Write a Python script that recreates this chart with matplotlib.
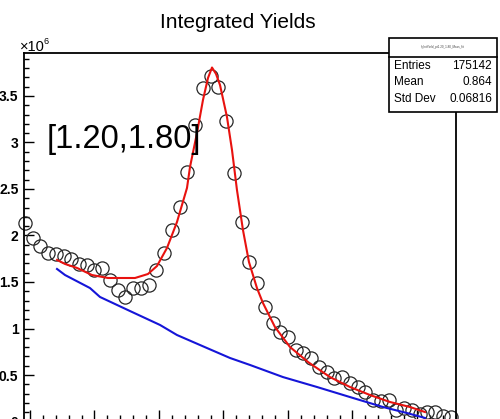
import matplotlib
matplotlib.use('Agg')
import matplotlib.pyplot as plt
from matplotlib.ticker import MultipleLocator, FuncFormatter
from matplotlib.patches import Rectangle
from matplotlib.lines import Line2D

plt.rcParams['font.family'] = ['Liberation Sans', 'DejaVu Sans']

# integrated yield per mass bin (units of 1e6)
mass = [0.592, 0.604, 0.616, 0.628, 0.640, 0.652, 0.664, 0.676, 0.688, 0.700,
        0.712, 0.724, 0.736, 0.748, 0.760, 0.772, 0.784, 0.796, 0.808, 0.820,
        0.832, 0.844, 0.856, 0.868, 0.880, 0.892, 0.904, 0.916, 0.928, 0.940,
        0.952, 0.964, 0.976, 0.988, 1.000, 1.012, 1.024, 1.036, 1.048, 1.060,
        1.072, 1.084, 1.096, 1.108, 1.120, 1.132, 1.144, 1.156, 1.168, 1.180,
        1.192, 1.204, 1.216, 1.228, 1.240, 1.252]
yields = [2.134, 1.973, 1.887, 1.812, 1.801, 1.780, 1.747, 1.694, 1.683, 1.629,
          1.651, 1.522, 1.414, 1.339, 1.435, 1.435, 1.468, 1.629, 1.812, 2.059,
          2.306, 2.683, 3.188, 3.586, 3.715, 3.597, 3.231, 2.672, 2.145, 1.715,
          1.489, 1.231, 1.059, 0.962, 0.909, 0.769, 0.737, 0.683, 0.586, 0.532,
          0.468, 0.478, 0.414, 0.371, 0.317, 0.231, 0.220, 0.231, 0.124, 0.145,
          0.124, 0.081, 0.102, 0.102, 0.059, 0.048]

# total fit (signal + background)
fit_x = [0.6419, 0.6543, 0.6729, 0.6961, 0.7209, 0.7628, 0.7829, 0.7969, 0.8124,
         0.8279, 0.8434, 0.8481, 0.8589, 0.8682, 0.8760, 0.8822, 0.8884, 0.8946,
         0.9054, 0.9132, 0.9209, 0.9302, 0.9395, 0.9519, 0.9612, 0.9798, 1.0031,
         1.0310, 1.0651, 1.0961, 1.1271, 1.1581, 1.1891, 1.2124]
fit_y = [1.737, 1.694, 1.651, 1.575, 1.543, 1.543, 1.586, 1.672, 1.866,
         2.145, 2.511, 2.737, 3.102, 3.457, 3.694, 3.806, 3.737, 3.618,
         3.274, 2.919, 2.489, 2.059, 1.715, 1.435, 1.274, 1.016, 0.801,
         0.640, 0.478, 0.371, 0.285, 0.210, 0.156, 0.102]

# background component
bkg_x = [0.6419, 0.6543, 0.6930, 0.7085, 0.7550, 0.8016, 0.8279, 0.8744,
         0.9101, 0.9411, 0.9922, 1.0450, 1.0961, 1.1473, 1.1845, 1.2124]
bkg_y = [1.640, 1.575, 1.435, 1.339, 1.188, 1.038, 0.930, 0.790,
         0.683, 0.608, 0.478, 0.371, 0.263, 0.156, 0.091, 0.038]

range_label = '[1.20,1.80]'
stats = [('Entries', '175142'), ('Mean', '0.864'), ('Std Dev', '0.06816')]

fig = plt.figure(figsize=(5.0, 4.19), dpi=100)
ax = fig.add_axes([0.048, -0.006, 0.864, 0.8795])

ax.plot(mass, yields, 'o', ms=9.5, mfc='none', mec='#262626', mew=0.9,
        clip_on=False, zorder=2)
ax.plot(fit_x, fit_y, color='#e8120f', lw=1.5, zorder=3)
ax.plot(bkg_x, bkg_y, color='#1515d8', lw=1.5, zorder=3)

ax.set_xlim(0.5907, 1.2605)
ax.set_ylim(0, 3.962)

ax.xaxis.set_major_locator(MultipleLocator(0.1))
ax.xaxis.set_minor_locator(MultipleLocator(0.02))
ax.yaxis.set_major_locator(MultipleLocator(0.5))
ax.yaxis.set_minor_locator(MultipleLocator(0.1))
ax.yaxis.set_major_formatter(FuncFormatter(lambda v, p: '%g' % v))

ax.tick_params(which='both', direction='in', top=False, right=False,
               width=1.0, color='black')
ax.tick_params(axis='y', which='major', length=7.2, labelsize=10, pad=4)
ax.tick_params(axis='y', which='minor', length=3.6)
ax.tick_params(axis='x', which='major', length=8.3, labelbottom=False)
ax.tick_params(axis='x', which='minor', length=5.0)
for lab in ax.get_yticklabels():
    lab.set_fontweight('bold')
for s in ax.spines.values():
    s.set_linewidth(1.3)

ax.text(0.053, 0.742, range_label, transform=ax.transAxes, fontsize=23.5,
        va='baseline', ha='left')

fig.text(0.475, 1 - 28 / 419, 'Integrated Yields', fontsize=15,
         ha='center', va='baseline')
fig.text(20 / 500, 1 - 51 / 419, '\u00d710', fontsize=10.5, ha='left',
         va='baseline')
fig.text(44 / 500, 1 - 44 / 419, '6', fontsize=6.5, ha='left',
         va='baseline')

# stats box
bx0, by0, bw, bh = 389 / 500, 1 - 112 / 419, 108 / 500, 74 / 419
fig.patches.append(Rectangle((bx0, by0), bw, bh, transform=fig.transFigure,
                             facecolor='white', edgecolor='black', lw=1.2,
                             zorder=5))
fig.lines.append(Line2D([bx0, bx0 + bw], [1 - 57 / 419] * 2,
                        transform=fig.transFigure, color='black', lw=1.2,
                        zorder=6))
fig.text(bx0 + bw / 2, 1 - 47 / 419, 'h_IntYield_pt1.20_1.80_Mass_fit',
         fontsize=2.2, ha='center', va='center', color='#444444', zorder=7)
row_y = [66, 82, 99]
for (name, val), yy in zip(stats, row_y):
    fig.text(394 / 500, 1 - yy / 419, name, fontsize=8.5, ha='left',
             va='center', zorder=7)
    fig.text(492 / 500, 1 - yy / 419, val, fontsize=8.5, ha='right',
             va='center', zorder=7)

fig.savefig('out.png', dpi=100)
